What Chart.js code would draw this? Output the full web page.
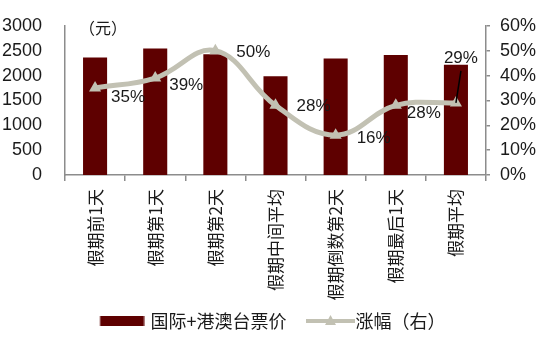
<!DOCTYPE html>
<html><head><meta charset="utf-8">
<script src="https://cdn.jsdelivr.net/npm/chart.js@4"></script>
<style>html,body{margin:0;padding:0;background:#fff}#wrap{width:550px;height:340px}</style>
</head><body><div id="wrap"><canvas id="c" width="550" height="340"></canvas></div>
<script>
// ---- data ----
const categories = ['假期前1天','假期第1天','假期第2天','假期中间平均','假期倒数第2天','假期最后1天','假期平均'];
const fareValues = [2365, 2545, 2430, 1985, 2345, 2415, 2215];
const growthPct = [35, 39, 50, 28, 16, 28, 29];
const leftTicks = [0, 500, 1000, 1500, 2000, 2500, 3000];
const rightTicks = [0, 10, 20, 30, 40, 50, 60];
const seriesNames = ['国际+港澳台票价', '涨幅（右）'];
const unitLabel = '（元）';

// ---- styles ----
const barColor = '#5E0000';
const lineColor = '#C2C1B3';
const axisColor = '#8C8C8C';
const textColor = '#1A1A1A';
const numFont = '"Liberation Sans", Arial, sans-serif';
const cjkFont = '"Noto Sans CJK SC", sans-serif';
const labelOffsets = [[33,9],[31,7],[38,2],[38,1],[38,3],[28,8],[5,-45]];

function makeBarIcon(){
  const c = document.createElement('canvas'); c.width = 56; c.height = 12;
  const g = c.getContext('2d'); g.fillStyle = barColor; g.fillRect(11.5, 1, 44, 10);
  return c;
}
function makeLineIcon(){
  const c = document.createElement('canvas'); c.width = 67; c.height = 14;
  const g = c.getContext('2d');
  g.strokeStyle = lineColor; g.lineWidth = 4;
  g.beginPath(); g.moveTo(18, 7); g.lineTo(67, 7); g.stroke();
  g.fillStyle = lineColor; g.beginPath();
  g.moveTo(42.5, 1); g.lineTo(48, 11); g.lineTo(37, 11); g.closePath(); g.fill();
  return c;
}
const barIcon = makeBarIcon();
const lineIcon = makeLineIcon();

const labelPlugin = {
  id: 'labels',
  afterDatasetsDraw(chart){
    const ctx = chart.ctx;
    const meta = chart.getDatasetMeta(0);
    ctx.save();
    ctx.fillStyle = textColor;
    ctx.font = '17px ' + numFont;
    ctx.textAlign = 'center'; ctx.textBaseline = 'middle';
    meta.data.forEach((pt, i) => {
      const [dx, dy] = labelOffsets[i];
      const x = pt.x + dx, y = pt.y + dy;
      if (dy < -20) {
        ctx.strokeStyle = '#000'; ctx.lineWidth = 1.5;
        ctx.beginPath(); ctx.moveTo(pt.x, pt.y); ctx.lineTo(x, y + 13); ctx.stroke();
      }
      ctx.fillText(growthPct[i] + '%', x, y);
    });
    const ca = chart.chartArea;
    ctx.font = '16px ' + cjkFont;
    ctx.fillText(unitLabel, ca.left + 38, ca.top + 2);
    ctx.restore();
  }
};

new Chart(document.getElementById('c'), {
  data: {
    labels: categories,
    datasets: [
      { type: 'line', label: seriesNames[1], data: growthPct, yAxisID: 'y1', order: 0,
        borderColor: lineColor, backgroundColor: lineColor, borderWidth: 5, tension: 0.4,
        pointStyle: 'triangle', pointRadius: 7, pointHoverRadius: 7, pointBorderWidth: 0,
        pointBackgroundColor: lineColor },
      { type: 'bar', label: seriesNames[0], data: fareValues, yAxisID: 'y', order: 1,
        backgroundColor: barColor, barPercentage: 0.4, categoryPercentage: 1.0 }
    ]
  },
  options: {
    responsive: false, animation: false, devicePixelRatio: 1,
    layout: { padding: { top: 25, left: 0, right: 13, bottom: 0 } },
    plugins: {
      tooltip: { enabled: false },
      legend: {
        position: 'bottom',
        labels: {
          usePointStyle: true, pointStyleWidth: 50, padding: 10,
          color: textColor, font: { family: cjkFont, size: 18 },
          generateLabels: () => [
            { text: seriesNames[0], pointStyle: barIcon, fillStyle: barColor, strokeStyle: barColor, lineWidth: 0, hidden: false, datasetIndex: 1, fontColor: textColor },
            { text: seriesNames[1], pointStyle: lineIcon, fillStyle: lineColor, strokeStyle: lineColor, lineWidth: 0, hidden: false, datasetIndex: 0, fontColor: textColor }
          ]
        }
      }
    },
    scales: {
      x: {
        offset: true,
        grid: { display: true, drawOnChartArea: false, offset: true, tickLength: 6, color: axisColor, lineWidth: 1.5 },
        border: { display: true, color: axisColor, width: 1.5 },
        ticks: { minRotation: 90, maxRotation: 90, autoSkip: false, padding: 8, color: textColor, font: { family: cjkFont, size: 17 } },
        afterFit(s){ s.height = 127; }
      },
      y: {
        position: 'left', min: 0, max: 3000,
        grid: { display: false },
        border: { display: true, color: axisColor, width: 1.5 },
        ticks: { stepSize: 500, padding: 15, color: textColor, font: { family: numFont, size: 18 }, callback: v => String(v) },
        afterBuildTicks(s){ s.ticks = leftTicks.map(v => ({ value: v })); },
        afterFit(s){ s.width = 65; }
      },
      y1: {
        position: 'right', min: 0, max: 60,
        grid: { display: true, drawOnChartArea: false, tickLength: 4, color: axisColor, lineWidth: 1.5 },
        border: { display: true, color: axisColor, width: 1.5 },
        ticks: { stepSize: 10, padding: 10, color: textColor, font: { family: numFont, size: 18 }, callback: v => v + '%' },
        afterBuildTicks(s){ s.ticks = rightTicks.map(v => ({ value: v })); },
        afterFit(s){ s.width = 51; }
      }
    }
  },
  plugins: [labelPlugin]
});
</script></body></html>
